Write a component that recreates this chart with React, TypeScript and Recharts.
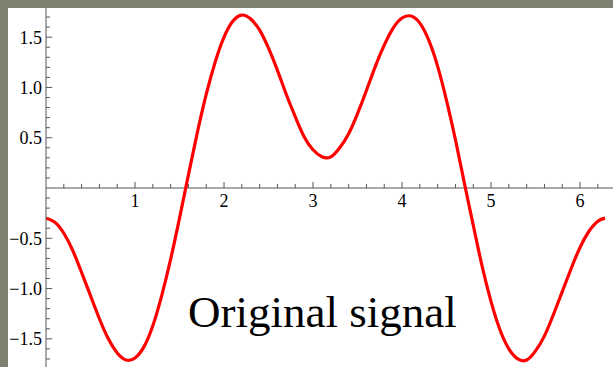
import React from 'react';
import { LineChart, Line, XAxis, YAxis, ReferenceLine, ReferenceDot } from 'recharts';

// sampled signal, x in radians
const xs = [
  0, 0.1, 0.2, 0.3, 0.4, 0.5, 0.6, 0.7, 0.8, 0.9,
  1.0, 1.1, 1.2, 1.3, 1.4, 1.5, 1.6, 1.7, 1.8, 1.9,
  2.0, 2.1, 2.2, 2.3, 2.4, 2.5, 2.6, 2.7, 2.8, 2.9,
  3.0, 3.1, 3.2, 3.3, 3.4, 3.5, 3.6, 3.7, 3.8, 3.9,
  4.0, 4.1, 4.2, 4.3, 4.4, 4.5, 4.6, 4.7, 4.8, 4.9,
  5.0, 5.1, 5.2, 5.3, 5.4, 5.5, 5.6, 5.7, 5.8, 5.9,
  6.0, 6.1, 6.2, 6.28,
];
const signal = [
  -0.30, -0.34, -0.45, -0.62, -0.84, -1.07, -1.30, -1.50, -1.64, -1.71,
  -1.69, -1.58, -1.37, -1.07, -0.71, -0.30, 0.13, 0.55, 0.93, 1.25,
  1.50, 1.66, 1.72, 1.68, 1.57, 1.39, 1.17, 0.93, 0.71, 0.51,
  0.38, 0.31, 0.31, 0.40, 0.54, 0.74, 0.97, 1.21, 1.42, 1.59,
  1.69, 1.71, 1.64, 1.47, 1.21, 0.87, 0.48, 0.05, -0.37, -0.78,
  -1.13, -1.41, -1.60, -1.70, -1.71, -1.62, -1.47, -1.26, -1.03, -0.80,
  -0.59, -0.43, -0.33, -0.30,
];

const xMajor = [1, 2, 3, 4, 5, 6];
const xMinor = [0.2, 0.4, 0.6, 0.8, 1.2, 1.4, 1.6, 1.8, 2.2, 2.4, 2.6, 2.8, 3.2, 3.4, 3.6, 3.8,
  4.2, 4.4, 4.6, 4.8, 5.2, 5.4, 5.6, 5.8, 6.2];
const yMajor = [-1.5, -1.0, -0.5, 0.5, 1.0, 1.5];
const yMinor = [-1.7, -1.6, -1.4, -1.3, -1.2, -1.1, -0.9, -0.8, -0.7, -0.6, -0.4, -0.3, -0.2, -0.1,
  0.1, 0.2, 0.3, 0.4, 0.6, 0.7, 0.8, 0.9, 1.1, 1.2, 1.3, 1.4, 1.6, 1.7];

const data = xs.map((x, i) => ({ x, y: signal[i] }));

const AXIS = '#555';
const FONT = 'Liberation Serif, serif';

const fmt = (v: number) => (v < 0 ? '\u2212' : '') + Math.abs(v).toFixed(1);

export default function App() {
  return (
    <div style={{ position: 'fixed', inset: 0, background: '#7e8170' }}>
      <div style={{ position: 'absolute', left: 8, top: 8, background: '#fff', fontFamily: FONT }}>
        <LineChart width={605} height={359} data={data} margin={{ top: 0, right: 0, bottom: 0, left: 0 }}>
          <XAxis type="number" dataKey="x" domain={[0, 6.37]} hide allowDataOverflow />
          <YAxis
            type="number"
            domain={[-1.78, 1.79]}
            allowDataOverflow
            width={38}
            ticks={yMajor}
            tickFormatter={fmt}
            tickLine={false}
            tickSize={0}
            tickMargin={4}
            axisLine={{ stroke: AXIS, strokeWidth: 1 }}
            tick={{ fill: '#000', fontSize: 18, fontFamily: FONT }}
          />
          <ReferenceLine y={0} stroke={AXIS} strokeWidth={1} />
          {xMajor.map((t) => (
            <ReferenceLine key={'xM' + t} segment={[{ x: t, y: 0 }, { x: t, y: 0.06 }]} stroke={AXIS} />
          ))}
          {xMinor.map((t) => (
            <ReferenceLine key={'xm' + t} segment={[{ x: t, y: 0 }, { x: t, y: 0.04 }]} stroke={AXIS} />
          ))}
          {yMajor.map((t) => (
            <ReferenceLine key={'yM' + t} segment={[{ x: 0, y: t }, { x: 0.07, y: t }]} stroke={AXIS} />
          ))}
          {yMinor.map((t) => (
            <ReferenceLine key={'ym' + t} segment={[{ x: 0, y: t }, { x: 0.045, y: t }]} stroke={AXIS} />
          ))}
          {xMajor.map((t) => (
            <ReferenceDot
              key={'xl' + t}
              x={t}
              y={0}
              r={0}
              fill="none"
              stroke="none"
              label={{ value: String(t), position: 'bottom', offset: 6, fill: '#000', fontSize: 18, fontFamily: FONT }}
            />
          ))}
          <Line
            type="natural"
            dataKey="y"
            stroke="#ff0000"
            strokeWidth={3.2}
            dot={false}
            isAnimationActive={false}
          />
        </LineChart>
        <svg width={605} height={359} style={{ position: 'absolute', left: 0, top: 0, pointerEvents: 'none' }}>
          <text x={180} y={319} fontSize={45} fontFamily={FONT} fill="#000">
            Original signal
          </text>
        </svg>
      </div>
    </div>
  );
}
